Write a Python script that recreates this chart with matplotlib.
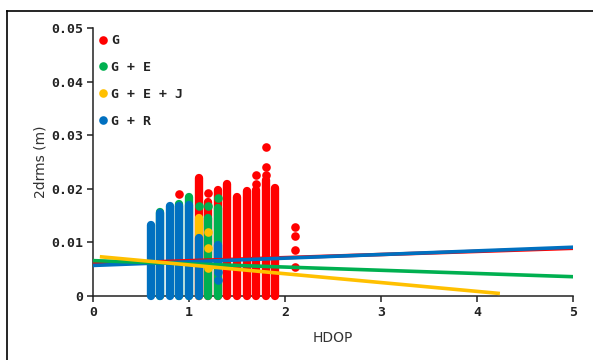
import matplotlib
matplotlib.use("Agg")
import matplotlib.pyplot as plt
from matplotlib.lines import Line2D

# ---------------- data ----------------
series_names = ["G", "G + E", "G + E + J", "G + R"]
series_colors = ["#FF0000", "#00B050", "#FFC000", "#0070C0"]

# G (red): dense columns of points (HDOP, bottom, top) and isolated points
g_col_x = [1.1, 1.2, 1.3, 1.4, 1.5, 1.6, 1.7, 1.8, 1.9]
g_col_bot = [0.0, 0.0, 0.0, 0.0, 0.0, 0.0, 0.0, 0.0, 0.0]
g_col_top = [0.0220, 0.0176, 0.0198, 0.0209, 0.0185, 0.0195, 0.0198, 0.0216, 0.0201]
g_pts_x = [0.9, 1.2, 1.7, 1.7, 1.8, 1.8, 1.8, 2.1, 2.1, 2.1, 2.1]
g_pts_y = [0.0190, 0.0193, 0.0209, 0.0226, 0.0226, 0.0241, 0.0278, 0.0128, 0.0112, 0.0086, 0.0054]

# G + E (green)
ge_col_x = [0.7, 0.9, 1.0, 1.2, 1.3]
ge_col_bot = [0.0, 0.0, 0.0, 0.0, 0.0]
ge_col_top = [0.0157, 0.0172, 0.0185, 0.0146, 0.0164]
ge_pts_x = [1.1, 1.2, 1.3]
ge_pts_y = [0.0168, 0.0168, 0.0183]

# G + E + J (yellow)
gej_col_x = [1.1]
gej_col_bot = [0.0]
gej_col_top = [0.0146]
gej_pts_x = [1.2, 1.2, 1.2]
gej_pts_y = [0.0120, 0.0090, 0.0052]

# G + R (blue)
gr_col_x = [0.6, 0.7, 0.8, 0.9, 1.0, 1.1, 1.3]
gr_col_bot = [0.0, 0.0, 0.0, 0.0, 0.0, 0.0, 0.0060]
gr_col_top = [0.0132, 0.0155, 0.0167, 0.0167, 0.0170, 0.0108, 0.0095]
gr_pts_x = [1.3, 1.3]
gr_pts_y = [0.0045, 0.0030]

# linear trend lines (endpoints)
g_trend_x = [0.0, 5.0]
g_trend_y = [0.0060, 0.0089]
ge_trend_x = [0.0, 5.0]
ge_trend_y = [0.0066, 0.0036]
gej_trend_x = [0.09, 4.22]
gej_trend_y = [0.0073, 0.0005]
gr_trend_x = [0.0, 5.0]
gr_trend_y = [0.0057, 0.0091]

x_ticks = [0, 1, 2, 3, 4, 5]
y_ticks = [0, 0.01, 0.02, 0.03, 0.04, 0.05]
y_tick_labels = ["0", "0.01", "0.02", "0.03", "0.04", "0.05"]

# ---------------- figure ----------------
W, H = 593, 360
fig = plt.figure(figsize=(W / 100, H / 100), dpi=100)
ax = fig.add_axes([93 / W, 1 - 296 / H, 480 / W, 268 / H])

col_lw = 6.0   # points (~8.3 px)
dot_ms = 6.2

cols = [
    (g_col_x, g_col_bot, g_col_top, g_pts_x, g_pts_y),
    (ge_col_x, ge_col_bot, ge_col_top, ge_pts_x, ge_pts_y),
    (gej_col_x, gej_col_bot, gej_col_top, gej_pts_x, gej_pts_y),
    (gr_col_x, gr_col_bot, gr_col_top, gr_pts_x, gr_pts_y),
]
z = 2
for (cx, cb, ct, px, py), color in zip(cols, series_colors):
    for x, b, t in zip(cx, cb, ct):
        ax.plot([x, x], [b, t], color=color, lw=col_lw, solid_capstyle="round",
                zorder=z, clip_on=False)
    ax.plot(px, py, "o", color=color, ms=dot_ms, mew=0, zorder=z, clip_on=False)
    z += 0.1

trend_lw = 2.6
ax.plot(g_trend_x, g_trend_y, color=series_colors[0], lw=trend_lw, zorder=5)
ax.plot(gr_trend_x, gr_trend_y, color=series_colors[3], lw=trend_lw, zorder=5.1)
ax.plot(ge_trend_x, ge_trend_y, color=series_colors[1], lw=trend_lw, zorder=5.2)
ax.plot(gej_trend_x, gej_trend_y, color=series_colors[2], lw=trend_lw, zorder=5.3)

ax.set_xlim(0, 5)
ax.set_ylim(0, 0.05)
for s in ["top", "right"]:
    ax.spines[s].set_visible(False)
for s in ["left", "bottom"]:
    ax.spines[s].set_linewidth(1.1)
    ax.spines[s].set_color("#222222")
    ax.spines[s].set_zorder(1)

tick_font = dict(family="DejaVu Sans Mono", weight="bold", size=9.5)
ax.set_xticks(x_ticks)
ax.set_xticklabels([str(t) for t in x_ticks], fontdict=tick_font)
ax.set_yticks(y_ticks)
ax.set_yticklabels(y_tick_labels, fontdict=tick_font)
ax.tick_params(direction="out", length=4, width=1.1, color="#222222", pad=3,
               labelcolor="#222222")

ax.set_xlabel("HDOP", fontsize=10, color="#333333", family="DejaVu Sans")
ax.set_ylabel("2drms (m)", fontsize=10, color="#333333", family="DejaVu Sans")
ax.xaxis.set_label_coords(0.5, -0.13)
ax.yaxis.set_label_coords(-0.094, 0.5)

handles = [Line2D([], [], ls="none", marker="o", ms=dot_ms, mew=0, color=c)
           for c in series_colors]
leg = ax.legend(handles, series_names, loc="upper left",
                bbox_to_anchor=(0.0125, 0.977), frameon=False,
                handlelength=0.6, handletextpad=0.3, labelspacing=1.05,
                borderpad=0, borderaxespad=0,
                prop=dict(family="DejaVu Sans Mono", weight="bold", size=9.5))
for t in leg.get_texts():
    t.set_color("#222222")

# outer frame (top and left edges visible)
fig.add_artist(Line2D([7 / W, 1.0], [1 - 11 / H, 1 - 11 / H], color="black", lw=1.2,
                      transform=fig.transFigure))
fig.add_artist(Line2D([7 / W, 7 / W], [0.0, 1 - 11 / H], color="black", lw=1.2,
                      transform=fig.transFigure))

fig.savefig("out.png", dpi=100)
